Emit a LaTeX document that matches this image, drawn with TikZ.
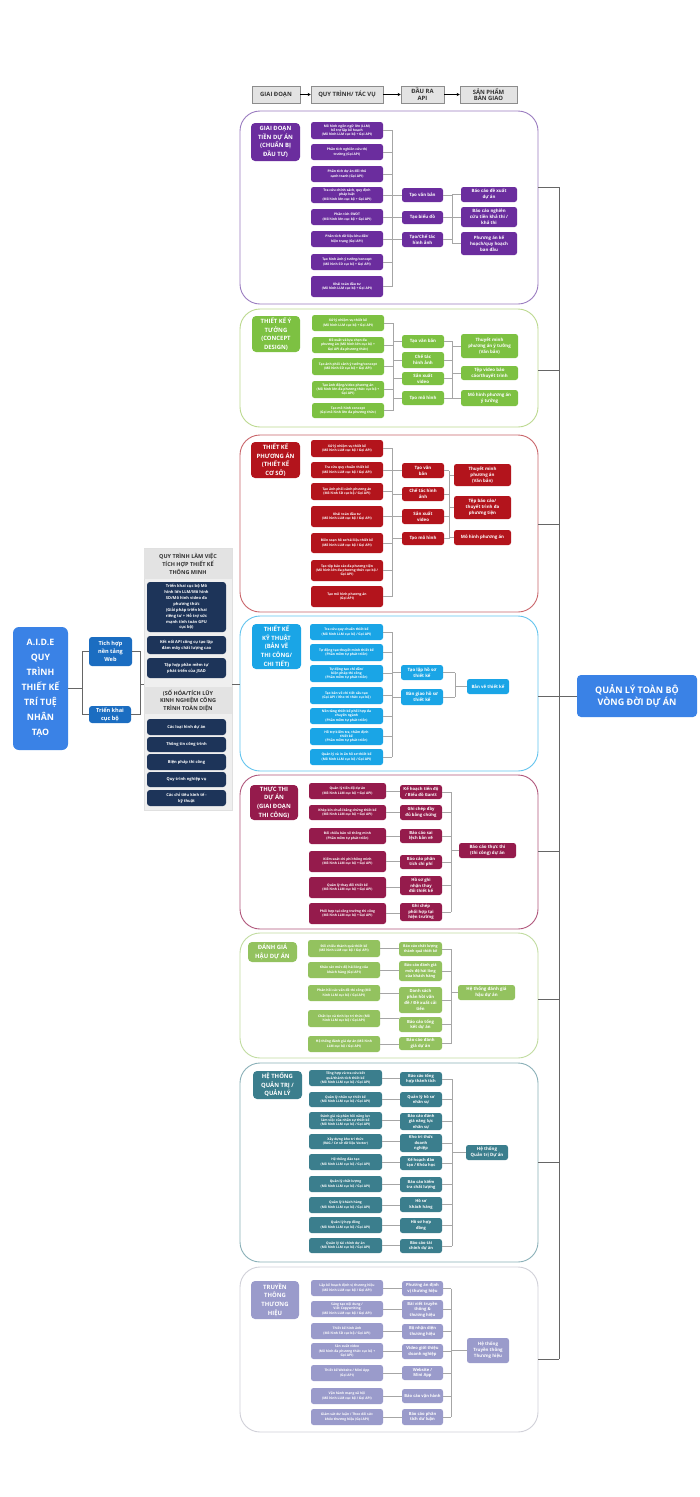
\documentclass[tikz,border=0pt]{standalone}
\usepackage{fontspec}
\setmainfont{Open Sans}
\usetikzlibrary{calc,arrows.meta}
\definecolor{cPur}{HTML}{6B2D9E}
\definecolor{cPurL}{HTML}{9A7CC0}
\definecolor{cGrn}{HTML}{7DC142}
\definecolor{cGrnL}{HTML}{BCD98F}
\definecolor{cRed}{HTML}{B3141C}
\definecolor{cRedL}{HTML}{C9656A}
\definecolor{cCyn}{HTML}{1AA5E6}
\definecolor{cCynL}{HTML}{63C4EE}
\definecolor{cMar}{HTML}{951B4C}
\definecolor{cMarL}{HTML}{B0577C}
\definecolor{cLgr}{HTML}{93C25F}
\definecolor{cLgrL}{HTML}{C1DCA0}
\definecolor{cTeal}{HTML}{3B7E8D}
\definecolor{cTealL}{HTML}{8AB0B8}
\definecolor{cLav}{HTML}{9A9BCB}
\definecolor{cLavL}{HTML}{D0D0D8}
\definecolor{cNavy}{HTML}{1D3459}
\definecolor{cBlue}{HTML}{3A82E6}
\definecolor{cBlueD}{HTML}{1B6DC1}
\definecolor{cHdr}{HTML}{E3E3E3}
\definecolor{cPanel}{HTML}{EFEFEF}
\newcommand{\myfs}[2]{\fontsize{#1}{#2}\selectfont}
\newcommand{\mkbox}[7]{%
  \pgfmathsetmacro\mkw{#5-#3}%
  \pgfmathsetmacro\mkh{#6-#4}%
  \pgfmathsetmacro\mkx{(#3+#5)/2}%
  \pgfmathsetmacro\mky{-(#4+#6)/2}%
  \node[#2, minimum width=\mkw pt, minimum height=\mkh pt] (#1) at (\mkx pt,\mky pt) {#7};}
\begin{document}
\begin{tikzpicture}[x=1pt,y=1pt,
  cbox/.style={rounded corners=2.5pt, text=white, align=center, inner sep=0.5pt, font=\bfseries},
  taskbox/.style={cbox, font=\myfs{3.3}{4.3}\bfseries},
  outbox/.style={cbox, font=\myfs{4.4}{5.8}\bfseries},
  stagebox/.style={cbox, rounded corners=4pt, font=\myfs{5.9}{8.6}\bfseries},
  secframe/.style={draw, rounded corners=20pt, line width=0.9pt, fill=white, align=center},
  conn/.style={draw=black!35, line width=0.6pt},
  mainconn/.style={draw=black!60, line width=0.9pt},
  hdrbox/.style={fill=cHdr, draw=black!45, line width=0.5pt, align=center, inner sep=0.5pt, font=\myfs{5.9}{6.8}\bfseries, text=black!80},
  navybox/.style={cbox, fill=cNavy, rounded corners=3pt, font=\myfs{4}{5.9}\bfseries},
  panelhdr/.style={fill=cHdr, text=black!80, align=center, inner sep=0.5pt, font=\myfs{5.5}{7.6}\bfseries}
]
\useasboundingbox[fill=white] (0,0) rectangle (700,-1497);

% ---------- header row ----------
\mkbox{hd1}{hdrbox}{252}{86}{300}{103}{GIAI ĐOẠN}
\mkbox{hd2}{hdrbox}{311}{86}{383}{103}{QUY TRÌNH/ TÁC VỤ}
\mkbox{hd3}{hdrbox}{401}{86}{444}{103}{ĐẦU RA\\API}
\mkbox{hd4}{hdrbox}{460}{86}{517}{103}{SẢN PHẨM\\BÀN GIAO}
\draw[-{Stealth[length=3pt,width=3pt]}, line width=0.6pt] (hd1.east) -- (hd2.west);
\draw[-{Stealth[length=3pt,width=3pt]}, line width=0.6pt] (hd2.east) -- (hd3.west);
\draw[-{Stealth[length=3pt,width=3pt]}, line width=0.6pt] (hd3.east) -- (hd4.west);

% ---------- section frames ----------
\mkbox{f1}{secframe, draw=cPurL}{240}{111}{538}{304}{}
\mkbox{f2}{secframe, draw=cGrnL}{240}{309}{538}{427}{}
\mkbox{f3}{secframe, draw=cRedL}{240}{435}{538}{612}{}
\mkbox{f4}{secframe, draw=cCynL}{240}{616}{538}{771}{}
\mkbox{f5}{secframe, draw=cMarL}{240}{775}{538}{929}{}
\mkbox{f6}{secframe, draw=cLgrL}{240}{933}{538}{1058}{}
\mkbox{f7}{secframe, draw=cTealL}{240}{1063}{538}{1262}{}
\mkbox{f8}{secframe, draw=cLavL}{240}{1267}{538}{1432}{}

% ---------- section 1 ----------
\mkbox{s1}{stagebox, fill=cPur}{251}{123}{300}{161}{GIAI ĐOẠN\\TIỀN DỰ ÁN\\(CHUẨN BỊ\\ĐẦU TƯ)}
\mkbox{t11}{taskbox, fill=cPur}{311}{122}{383}{139}{Mô hình ngôn ngữ lớn (LLM)\\hỗ trợ lập kế hoạch\\(Mô hình LLM cục bộ + Gọi API)}
\mkbox{t12}{taskbox, fill=cPur}{311}{144}{383}{160}{Phân tích nghiên cứu thị\\trường (Gọi API)}
\mkbox{t13}{taskbox, fill=cPur}{311}{166}{383}{182}{Phân tích dự án đối thủ\\cạnh tranh (Gọi API)}
\mkbox{t14}{taskbox, fill=cPur}{311}{187}{383}{203}{Tra cứu chính sách, quy định\\pháp luật\\(Mô hình lớn cục bộ + Gọi API)}
\mkbox{t15}{taskbox, fill=cPur}{311}{209}{383}{225}{Phân tích SWOT\\(Mô hình lớn cục bộ + Gọi API)}
\mkbox{t16}{taskbox, fill=cPur}{311}{231}{383}{247}{Phân tích dữ liệu khu đất/\\hiện trạng (Gọi API)}
\mkbox{t17}{taskbox, fill=cPur}{311}{254}{383}{270}{Tạo hình ảnh ý tưởng/concept\\(Mô hình SD cục bộ + Gọi API)}
\mkbox{t18}{taskbox, fill=cPur}{311}{276}{383}{297}{Khái toán đầu tư\\(Mô hình LLM cục bộ + Gọi API)}
\mkbox{o11}{outbox, fill=cPur}{402}{188}{443}{202}{Tạo văn bản}
\mkbox{o12}{outbox, fill=cPur}{402}{211}{443}{224}{Tạo biểu đồ}
\mkbox{o13}{outbox, fill=cPur}{402}{232}{443}{247}{Tạo/Chế tác\\hình ảnh}
\mkbox{p11}{outbox, fill=cPur}{461}{187}{517}{202}{Báo cáo đề xuất\\dự án}
\mkbox{p12}{outbox, fill=cPur}{461}{207}{517}{227}{Báo cáo nghiên\\cứu tiền khả thi /\\khả thi}
\mkbox{p13}{outbox, fill=cPur}{461}{232}{517}{255}{Phương án kế\\hoạch/quy hoạch\\ban đầu}
\coordinate (a1) at (392.5,0);
\coordinate (b1) at (452,0);
\foreach \i in {1,...,8} {\draw[conn] (t1\i.east) -- (t1\i.east -| a1);}
\draw[conn] (t11.east -| a1) -- (t18.east -| a1);
\foreach \i in {1,2,3} {\draw[conn] (o1\i.west -| a1) -- (o1\i.west);
  \draw[conn] (o1\i.east) -- (o1\i.east -| b1);
  \draw[conn] (p1\i.west -| b1) -- (p1\i.west);}
\draw[conn] (p11.west -| b1) -- (p13.west -| b1);

% ---------- section 2 ----------
\mkbox{s2}{stagebox, fill=cGrn}{252}{316}{300}{352}{THIẾT KẾ Ý\\TƯỞNG\\(CONCEPT\\DESIGN)}
\mkbox{t21}{taskbox, fill=cGrn}{312}{315}{384}{331}{Xử lý nhiệm vụ thiết kế\\(Mô hình LLM cục bộ + Gọi API)}
\mkbox{t22}{taskbox, fill=cGrn}{312}{337}{384}{353}{Đề xuất và lựa chọn đa\\phương án (Mô hình lớn cục bộ +\\Gọi API đa phương thức)}
\mkbox{t23}{taskbox, fill=cGrn}{312}{358}{384}{375}{Tạo ảnh phối cảnh ý tưởng/concept\\(Mô hình SD cục bộ + Gọi API)}
\mkbox{t24}{taskbox, fill=cGrn}{312}{381}{384}{398}{Tạo ảnh động/video phương án\\(Mô hình lớn đa phương thức cục bộ +\\Gọi API)}
\mkbox{t25}{taskbox, fill=cGrn}{312}{403}{384}{418}{Tạo mô hình concept\\(Gọi mô hình lớn đa phương thức)}
\mkbox{o21}{outbox, fill=cGrn}{402}{335}{444}{348}{Tạo văn bản}
\mkbox{o22}{outbox, fill=cGrn}{402}{352}{444}{368}{Chế tác\\hình ảnh}
\mkbox{o23}{outbox, fill=cGrn}{402}{372}{444}{385}{Sản xuất\\video}
\mkbox{o24}{outbox, fill=cGrn}{402}{391}{444}{405}{Tạo mô hình}
\mkbox{p21}{outbox, fill=cGrn}{461}{334}{518}{358}{Thuyết minh\\phương án ý tưởng\\(Văn bản)}
\mkbox{p22}{outbox, fill=cGrn}{461}{366}{518}{380}{Tệp video báo\\cáo/thuyết trình}
\mkbox{p23}{outbox, fill=cGrn}{461}{390}{518}{406}{Mô hình phương án\\ý tưởng}
\coordinate (a2) at (393,0);
\coordinate (b2) at (452.5,0);
\foreach \i in {1,...,5} {\draw[conn] (t2\i.east) -- (t2\i.east -| a2);}
\draw[conn] (t21.east -| a2) -- (t25.east -| a2);
\foreach \i in {1,...,4} {\draw[conn] (o2\i.west -| a2) -- (o2\i.west);
  \draw[conn] (o2\i.east) -- (o2\i.east -| b2);}
\foreach \i in {1,2,3} {\draw[conn] (p2\i.west -| b2) -- (p2\i.west);}
\draw[conn] (o21.east -| b2) -- (o24.east -| b2);

% ---------- section 3 ----------
\mkbox{s3}{stagebox, fill=cRed}{251}{442}{300}{478}{THIẾT KẾ\\PHƯƠNG ÁN\\(THIẾT KẾ\\CƠ SỞ)}
\mkbox{t31}{taskbox, fill=cRed}{311}{440}{383}{457}{Xử lý nhiệm vụ thiết kế\\(Mô hình LLM cục bộ / Gọi API)}
\mkbox{t32}{taskbox, fill=cRed}{311}{462}{383}{478}{Tra cứu quy chuẩn thiết kế\\(Mô hình LLM cục bộ / Gọi API)}
\mkbox{t33}{taskbox, fill=cRed}{311}{483}{383}{500}{Tạo ảnh phối cảnh phương án\\(Mô hình SD cục bộ / Gọi API)}
\mkbox{t34}{taskbox, fill=cRed}{311}{506}{383}{527}{Khái toán đầu tư\\(Mô hình LLM cục bộ / Gọi API)}
\mkbox{t35}{taskbox, fill=cRed}{311}{533}{383}{553}{Biên soạn hồ sơ/tài liệu thiết kế\\(Mô hình LLM cục bộ / Gọi API)}
\mkbox{t36}{taskbox, fill=cRed}{311}{560}{383}{581}{Tạo tệp báo cáo đa phương tiện\\(Mô hình lớn đa phương thức cục bộ /\\Gọi API)}
\mkbox{t37}{taskbox, fill=cRed}{311}{586}{383}{607}{Tạo mô hình phương án\\(Gọi API)}
\mkbox{o31}{outbox, fill=cRed}{402}{463}{444}{478}{Tạo văn\\bản}
\mkbox{o32}{outbox, fill=cRed}{402}{487}{444}{501}{Chế tác hình\\ảnh}
\mkbox{o33}{outbox, fill=cRed}{402}{509}{444}{524}{Sản xuất\\video}
\mkbox{o34}{outbox, fill=cRed}{402}{532}{444}{545}{Tạo mô hình}
\mkbox{p31}{outbox, fill=cRed}{454}{464}{511}{486}{Thuyết minh\\phương án\\(Văn bản)}
\mkbox{p32}{outbox, fill=cRed}{454}{496}{511}{519}{Tệp báo cáo/\\thuyết trình đa\\phương tiện}
\mkbox{p33}{outbox, fill=cRed}{454}{530}{511}{545}{Mô hình phương án}
\coordinate (a3) at (392.5,0);
\coordinate (b3) at (449,0);
\foreach \i in {1,...,7} {\draw[conn] (t3\i.east) -- (t3\i.east -| a3);}
\draw[conn] (t31.east -| a3) -- (t37.east -| a3);
\foreach \i in {1,...,4} {\draw[conn] (o3\i.west -| a3) -- (o3\i.west);
  \draw[conn] (o3\i.east) -- (o3\i.east -| b3);}
\foreach \i in {1,2,3} {\draw[conn] (p3\i.west -| b3) -- (p3\i.west);}
\draw[conn] (o31.east -| b3) -- (o34.east -| b3);

% ---------- section 4 ----------
\mkbox{s4}{stagebox, fill=cCyn}{252}{624}{301}{669}{THIẾT KẾ\\KỸ THUẬT\\(BẢN VẼ\\THI CÔNG/\\CHI TIẾT)}
\mkbox{t41}{taskbox, fill=cCyn}{310}{624}{383}{640}{Tra cứu quy chuẩn thiết kế\\(Mô hình LLM cục bộ / Gọi API)}
\mkbox{t42}{taskbox, fill=cCyn}{310}{644}{383}{661}{Tự động tạo thuyết minh thiết kế\\(Phần mềm tự phát triển)}
\mkbox{t43}{taskbox, fill=cCyn}{310}{665}{383}{682}{Tự động tạo chỉ dẫn/\\biện pháp thi công\\(Phần mềm tự phát triển)}
\mkbox{t44}{taskbox, fill=cCyn}{310}{687}{383}{704}{Tạo bản vẽ chi tiết cấu tạo\\(Gọi API / Kho tri thức cục bộ)}
\mkbox{t45}{taskbox, fill=cCyn}{310}{708}{383}{724}{Nền tảng thiết kế phối hợp đa\\chuyên ngành\\(Phần mềm tự phát triển)}
\mkbox{t46}{taskbox, fill=cCyn}{310}{728}{383}{745}{Hỗ trợ kiểm tra, thẩm định\\thiết kế\\(Phần mềm tự phát triển)}
\mkbox{t47}{taskbox, fill=cCyn}{310}{749}{383}{765}{Quản lý và in ấn hồ sơ thiết kế\\(Mô hình LLM cục bộ / Gọi API)}
\mkbox{o41}{outbox, fill=cCyn}{401}{665}{443}{680}{Tạo lập hồ sơ\\thiết kế}
\mkbox{o42}{outbox, fill=cCyn}{401}{689}{443}{705}{Bàn giao hồ sơ\\thiết kế}
\mkbox{p41}{outbox, fill=cCyn}{467}{679}{509}{694}{Bản vẽ thiết kế}
\coordinate (a4) at (392,0);
\coordinate (b4) at (455,0);
\foreach \i in {1,...,7} {\draw[conn] (t4\i.east) -- (t4\i.east -| a4);}
\draw[conn] (t41.east -| a4) -- (t47.east -| a4);
\foreach \i in {1,2} {\draw[conn] (o4\i.west -| a4) -- (o4\i.west);
  \draw[conn] (o4\i.east) -- (o4\i.east -| b4);}
\draw[conn] (o41.east -| b4) -- (o42.east -| b4);
\draw[conn] (p41.west -| b4) -- (p41.west);

% ---------- section 5 ----------
\mkbox{s5}{stagebox, fill=cMar}{250}{785}{298}{820}{THỰC THI\\DỰ ÁN\\(GIAI ĐOẠN\\THI CÔNG)}
\mkbox{t51}{taskbox, fill=cMar}{309}{783}{386}{799}{Quản lý tiến độ dự án\\(Mô hình LLM cục bộ + Gọi API)}
\mkbox{t52}{taskbox, fill=cMar}{309}{805}{386}{820}{Khép kín chuỗi bằng chứng thiết kế\\(Mô hình LLM cục bộ + Gọi API)}
\mkbox{t53}{taskbox, fill=cMar}{309}{828}{386}{844}{Đối chiếu bản vẽ thông minh\\(Phần mềm tự phát triển)}
\mkbox{t54}{taskbox, fill=cMar}{309}{851}{386}{872}{Kiểm soát chi phí thông minh\\(Mô hình LLM cục bộ + Gọi API)}
\mkbox{t55}{taskbox, fill=cMar}{309}{877}{386}{898}{Quản lý thay đổi thiết kế\\(Mô hình LLM cục bộ + Gọi API)}
\mkbox{t56}{taskbox, fill=cMar}{309}{903}{386}{924}{Phối hợp tại công trường thi công\\(Mô hình LLM cục bộ + Gọi API)}
\mkbox{o51}{outbox, fill=cMar, font=\myfs{4.2}{5.6}\bfseries}{400}{785}{442}{799}{Kế hoạch tiến độ\\/ Biểu đồ Gantt}
\mkbox{o52}{outbox, fill=cMar, font=\myfs{4.2}{5.6}\bfseries}{400}{805}{442}{820}{Ghi chép đầy\\đủ bằng chứng}
\mkbox{o53}{outbox, fill=cMar, font=\myfs{4.2}{5.6}\bfseries}{400}{829}{442}{843}{Báo cáo sai\\lệch bản vẽ}
\mkbox{o54}{outbox, fill=cMar, font=\myfs{4.2}{5.6}\bfseries}{400}{855}{442}{869}{Báo cáo phân\\tích chi phí}
\mkbox{o55}{outbox, fill=cMar, font=\myfs{4.2}{5.6}\bfseries}{400}{876}{442}{895}{Hồ sơ ghi\\nhận thay\\đổi thiết kế}
\mkbox{o56}{outbox, fill=cMar, font=\myfs{4.2}{5.6}\bfseries}{400}{903}{442}{921}{Ghi chép\\phối hợp tại\\hiện trường}
\mkbox{p51}{outbox, fill=cMar}{459}{843}{516}{858}{Báo cáo thực thi\\(thi công) dự án}
\coordinate (b5) at (451,0);
\foreach \i in {1,...,6} {\draw[conn] (t5\i.east) -- (o5\i.west |- t5\i.east);
  \draw[conn] (o5\i.east) -- (o5\i.east -| b5);}
\draw[conn] (o51.east -| b5) -- (o56.east -| b5);
\draw[conn] (p51.west -| b5) -- (p51.west);

% ---------- section 6 ----------
\mkbox{s6}{stagebox, fill=cLgr}{248}{942}{297}{962}{ĐÁNH GIÁ\\HẬU DỰ ÁN}
\mkbox{t61}{taskbox, fill=cLgr}{308}{940}{380}{957}{Đối chiếu thành quả thiết kế\\(Mô hình LLM cục bộ / Gọi API)}
\mkbox{t62}{taskbox, fill=cLgr}{308}{962}{380}{978}{Khảo sát mức độ hài lòng của\\khách hàng (Gọi API)}
\mkbox{t63}{taskbox, fill=cLgr}{308}{985}{380}{1001}{Phản hồi các vấn đề thi công (Mô\\hình LLM cục bộ / Gọi API)}
\mkbox{t64}{taskbox, fill=cLgr}{308}{1010}{380}{1027}{Chắt lọc và tinh lọc tri thức (Mô\\hình LLM cục bộ / Gọi API)}
\mkbox{t65}{taskbox, fill=cLgr}{308}{1036}{380}{1052}{Hệ thống đánh giá dự án (Mô hình\\LLM cục bộ / Gọi API)}
\mkbox{o61}{outbox, fill=cLgr, font=\myfs{3.6}{4.8}\bfseries}{399}{942}{442}{956}{Báo cáo chất lượng\\thành quả thiết kế}
\mkbox{o62}{outbox, fill=cLgr, font=\myfs{3.8}{5.2}\bfseries}{399}{961}{442}{981}{Báo cáo đánh giá\\mức độ hài lòng\\của khách hàng}
\mkbox{o63}{outbox, fill=cLgr, font=\myfs{4.2}{5.8}\bfseries}{399}{987}{442}{1013}{Danh sách\\phản hồi vấn\\đề / Đề xuất cải\\tiến}
\mkbox{o64}{outbox, fill=cLgr, font=\myfs{4.2}{5.8}\bfseries}{399}{1017}{442}{1032}{Báo cáo tổng\\kết dự án}
\mkbox{o65}{outbox, fill=cLgr, font=\myfs{4.2}{5.8}\bfseries}{399}{1037}{442}{1050}{Báo cáo đánh\\giá dự án}
\mkbox{p61}{outbox, fill=cLgr}{458}{985}{515}{1000}{Hệ thống đánh giá\\hậu dự án}
\coordinate (b6) at (451,0);
\foreach \i in {1,...,5} {\draw[conn] (t6\i.east) -- (o6\i.west |- t6\i.east);
  \draw[conn] (o6\i.east) -- (o6\i.east -| b6);}
\draw[conn] (o61.east -| b6) -- (o65.east -| b6);
\draw[conn] (p61.west -| b6) -- (p61.west);

% ---------- section 7 ----------
\mkbox{s7}{stagebox, fill=cTeal}{253}{1071}{302}{1099}{HỆ THỐNG\\QUẢN TRỊ /\\QUẢN LÝ}
\mkbox{t71}{taskbox, fill=cTeal}{309}{1070}{382}{1086}{Tổng hợp và tra cứu kết\\quả/thành tích thiết kế\\(Mô hình LLM cục bộ / Gọi API)}
\mkbox{t72}{taskbox, fill=cTeal}{309}{1092}{382}{1107}{Quản lý nhân sự thiết kế\\(Mô hình LLM cục bộ / Gọi API)}
\mkbox{t73}{taskbox, fill=cTeal}{309}{1112}{382}{1129}{Đánh giá và phản hồi năng lực\\làm việc của nhân sự thiết kế\\(Mô hình LLM cục bộ / Gọi API)}
\mkbox{t74}{taskbox, fill=cTeal}{309}{1134}{382}{1149}{Xây dựng kho tri thức\\(RAG / Cơ sở dữ liệu Vector)}
\mkbox{t75}{taskbox, fill=cTeal}{309}{1154}{382}{1170}{Hệ thống đào tạo\\(Mô hình LLM cục bộ / Gọi API)}
\mkbox{t76}{taskbox, fill=cTeal}{309}{1176}{382}{1192}{Quản lý chất lượng\\(Mô hình LLM cục bộ / Gọi API)}
\mkbox{t77}{taskbox, fill=cTeal}{309}{1197}{382}{1213}{Quản lý khách hàng\\(Mô hình LLM cục bộ / Gọi API)}
\mkbox{t78}{taskbox, fill=cTeal}{309}{1217}{382}{1233}{Quản lý hợp đồng\\(Mô hình LLM cục bộ / Gọi API)}
\mkbox{t79}{taskbox, fill=cTeal}{309}{1238}{382}{1253}{Quản lý tài chính dự án\\(Mô hình LLM cục bộ / Gọi API)}
\mkbox{o71}{outbox, fill=cTeal, font=\myfs{4}{5.4}\bfseries}{400}{1072}{442}{1086}{Báo cáo tổng\\hợp thành tích}
\mkbox{o72}{outbox, fill=cTeal, font=\myfs{4}{5.4}\bfseries}{400}{1092}{442}{1107}{Quản lý hồ sơ\\nhân sự}
\mkbox{o73}{outbox, fill=cTeal, font=\myfs{4}{5.4}\bfseries}{400}{1113}{442}{1130}{Báo cáo đánh\\giá năng lực\\nhân sự}
\mkbox{o74}{outbox, fill=cTeal, font=\myfs{4}{5.4}\bfseries}{400}{1134}{442}{1152}{Kho tri thức\\doanh\\nghiệp}
\mkbox{o75}{outbox, fill=cTeal, font=\myfs{4}{5.4}\bfseries}{400}{1156}{442}{1170}{Kế hoạch đào\\tạo / Khóa học}
\mkbox{o76}{outbox, fill=cTeal, font=\myfs{4}{5.4}\bfseries}{400}{1177}{442}{1192}{Báo cáo kiểm\\tra chất lượng}
\mkbox{o77}{outbox, fill=cTeal, font=\myfs{4}{5.4}\bfseries}{400}{1197}{442}{1212}{Hồ sơ\\khách hàng}
\mkbox{o78}{outbox, fill=cTeal, font=\myfs{4}{5.4}\bfseries}{400}{1218}{442}{1233}{Hồ sơ hợp\\đồng}
\mkbox{o79}{outbox, fill=cTeal, font=\myfs{4}{5.4}\bfseries}{400}{1239}{442}{1253}{Báo cáo tài\\chính dự án}
\mkbox{p71}{outbox, fill=cTeal}{466}{1145}{508}{1160}{Hệ thống\\Quản trị Dự án}
\coordinate (b7) at (452,0);
\foreach \i in {1,...,9} {\draw[conn] (t7\i.east) -- (o7\i.west |- t7\i.east);
  \draw[conn] (o7\i.east) -- (o7\i.east -| b7);}
\draw[conn] (o71.east -| b7) -- (o79.east -| b7);
\draw[conn] (p71.west -| b7) -- (p71.west);

% ---------- section 8 ----------
\mkbox{s8}{stagebox, fill=cLav}{251}{1281}{299}{1319}{TRUYỀN\\THÔNG\\THƯƠNG\\HIỆU}
\mkbox{t81}{taskbox, fill=cLav}{311}{1280}{383}{1296}{Lập kế hoạch định vị thương hiệu\\(Mô hình LLM cục bộ / Gọi API)}
\mkbox{t82}{taskbox, fill=cLav}{311}{1301}{383}{1317}{Sáng tạo nội dung /\\Viết Copywriting\\(Mô hình LLM cục bộ / Gọi API)}
\mkbox{t83}{taskbox, fill=cLav}{311}{1323}{383}{1339}{Thiết kế hình ảnh\\(Mô hình SD cục bộ / Gọi API)}
\mkbox{t84}{taskbox, fill=cLav}{311}{1343}{383}{1359}{Sản xuất video\\(Mô hình đa phương thức cục bộ +\\Gọi API)}
\mkbox{t85}{taskbox, fill=cLav}{311}{1365}{383}{1381}{Thiết kế Website / Mini App\\(Gọi API)}
\mkbox{t86}{taskbox, fill=cLav}{311}{1388}{383}{1404}{Vận hành mạng xã hội\\(Mô hình LLM cục bộ / Gọi API)}
\mkbox{t87}{taskbox, fill=cLav}{311}{1409}{383}{1425}{Giám sát dư luận / Theo dõi sức\\khỏe thương hiệu (Gọi API)}
\mkbox{o81}{outbox, fill=cLav, font=\myfs{4.1}{5.5}\bfseries}{402}{1281}{443}{1296}{Phương án định\\vị thương hiệu}
\mkbox{o82}{outbox, fill=cLav, font=\myfs{4.1}{5.5}\bfseries}{402}{1300}{443}{1319}{Bài viết truyền\\thông \&\\thương hiệu}
\mkbox{o83}{outbox, fill=cLav, font=\myfs{4.1}{5.5}\bfseries}{402}{1324}{443}{1339}{Bộ nhận diện\\thương hiệu}
\mkbox{o84}{outbox, fill=cLav, font=\myfs{4.1}{5.5}\bfseries}{402}{1344}{443}{1359}{Video giới thiệu\\doanh nghiệp}
\mkbox{o85}{outbox, fill=cLav, font=\myfs{4.1}{5.5}\bfseries}{402}{1366}{443}{1380}{Website /\\Mini App}
\mkbox{o86}{outbox, fill=cLav, font=\myfs{4.1}{5.5}\bfseries}{402}{1389}{443}{1403}{Báo cáo vận hành}
\mkbox{o87}{outbox, fill=cLav, font=\myfs{4.1}{5.5}\bfseries}{402}{1409}{443}{1425}{Báo cáo phân\\tích dư luận}
\mkbox{p81}{outbox, fill=cLav}{467}{1338}{509}{1363}{Hệ thống\\Truyền thông\\Thương hiệu}
\coordinate (b8) at (451,0);
\foreach \i in {1,...,7} {\draw[conn] (t8\i.east) -- (o8\i.west |- t8\i.east);
  \draw[conn] (o8\i.east) -- (o8\i.east -| b8);}
\draw[conn] (o81.east -| b8) -- (o87.east -| b8);
\draw[conn] (p81.west -| b8) -- (p81.west);

% ---------- left side ----------
\mkbox{aide}{cbox, fill=cBlue, rounded corners=6pt, font=\myfs{8.8}{15}\bfseries}{13}{627}{68}{750}{A.I.D.E\\QUY\\TRÌNH\\THIẾT KẾ\\TRÍ TUỆ\\NHÂN\\TẠO}
\mkbox{web}{cbox, fill=cBlueD, rounded corners=3pt, font=\myfs{5.6}{8}\bfseries}{89}{637}{132}{666}{Tích hợp\\nền tảng\\Web}
\mkbox{loc}{cbox, fill=cBlueD, rounded corners=3pt, font=\myfs{5.6}{8}\bfseries}{89}{706}{131}{723}{Triển khai\\cục bộ}
\mkbox{panel}{fill=cPanel, draw=black!12}{144}{548}{232}{810}{}
\mkbox{ph1}{panelhdr}{144}{549}{232}{579}{QUY TRÌNH LÀM VIỆC\\TÍCH HỢP THIẾT KẾ\\THÔNG MINH}
\mkbox{n1}{navybox}{147}{582}{226}{632}{Triển khai cục bộ Mô\\hình lớn LLM/Mô hình\\SD/Mô hình video đa\\phương thức\\(Giải pháp triển khai\\riêng tư + Hỗ trợ sức\\mạnh tính toán GPU\\cục bộ)}
\mkbox{n2}{navybox}{147}{636}{226}{654}{Kết nối API công cụ tạo lập\\đám mây chất lượng cao}
\mkbox{n3}{navybox}{147}{658}{226}{678}{Tập hợp phần mềm tự\\phát triển của JSAD}
\mkbox{ph2}{panelhdr}{144}{687}{232}{714}{(SỐ HÓA/TÍCH LŨY\\KINH NGHIỆM CÔNG\\TRÌNH TOÀN DIỆN}
\mkbox{n4}{navybox}{147}{719}{226}{735}{Các loại hình dự án}
\mkbox{n5}{navybox}{147}{737}{226}{752}{Thông tin công trình}
\mkbox{n6}{navybox}{147}{754}{226}{770}{Biện pháp thi công}
\mkbox{n7}{navybox}{147}{772}{226}{787}{Quy trình nghiệp vụ}
\mkbox{n8}{navybox}{147}{790}{226}{806}{Các chỉ tiêu kinh tế -\\kỹ thuật}
\coordinate (L1) at (82,-688.5);
\coordinate (L2) at (140,-684);
\draw[mainconn] (aide.east) -- (L1);
\draw[mainconn] (web.west) -| (L1);
\draw[mainconn] (loc.west) -| (L1);
\draw[mainconn] (web.east) -| (L2);
\draw[mainconn] (loc.east) -| (L2);
\draw[mainconn] (L2) -- (L2 -| panel.west);
\draw[mainconn] (L2 -| panel.east) -- (L2 -| f4.west);

% ---------- right side ----------
\mkbox{mgmt}{cbox, fill=cBlue, rounded corners=4pt, font=\myfs{9}{12}\bfseries}{577}{675}{697}{717}{QUẢN LÝ TOÀN BỘ\\VÒNG ĐỜI DỰ ÁN}
\foreach \k/\yy in {1/187,2/370,3/524,4/696,5/851,6/999,7/1162,8/1359} {
  \coordinate (r\k) at (559,-\yy);
  \draw[mainconn] (r\k -| f\k.east) -- (r\k);}
\draw[mainconn] (r1) -- (r8);
\draw[mainconn] (r4) -- (r4 -| mgmt.west);
\end{tikzpicture}
\end{document}
